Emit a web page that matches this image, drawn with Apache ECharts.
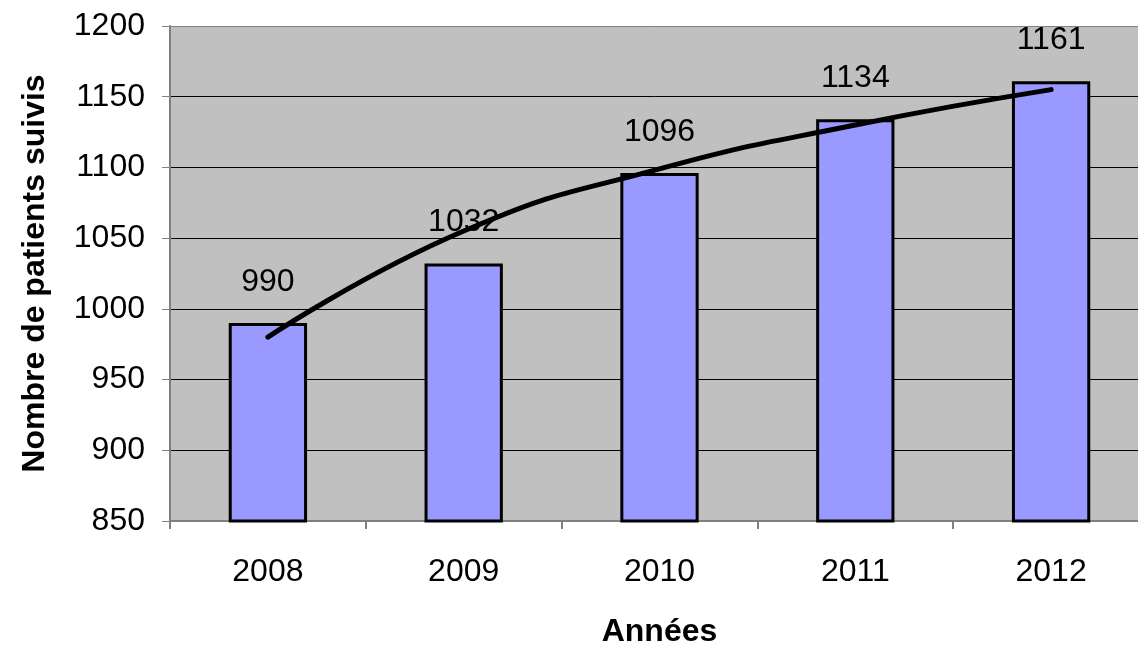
<!DOCTYPE html>
<html><head><meta charset="utf-8">
<script src="https://cdn.jsdelivr.net/npm/echarts@6/dist/echarts.min.js"></script>
<style>html,body{margin:0;padding:0;background:#fff}#c{width:1138px;height:648px}</style>
</head><body><div id="c"></div>
<script>
const categories = ['2008','2009','2010','2011','2012'];
const patients = [990, 1032, 1096, 1134, 1161];
const trend = [980, 1055, 1099, 1130, 1155];
const yMin = 850, yMax = 1200, yStep = 50;

const chart = echarts.init(document.getElementById('c'));
const font = 'Liberation Sans, Arial, sans-serif';
chart.setOption({
  animation: false,
  grid: {left: 170, top: 26, bottom: 127, right: -11, show: true, backgroundColor: '#C0C0C0', borderWidth: 0,
         containLabel: false, outerBoundsMode: 'none'},
  xAxis: {
    type: 'category', data: categories,
    name: 'Années', nameLocation: 'middle', nameGap: 95,
    nameTextStyle: {fontFamily: font, fontSize: 32, fontWeight: 'bold', color: '#000'},
    axisLine: {lineStyle: {color: '#808080', width: 2}},
    axisTick: {show: true, length: 8, lineStyle: {color: '#808080', width: 2}},
    axisLabel: {fontFamily: font, fontSize: 32, color: '#000', margin: 35},
    splitLine: {show: false}
  },
  yAxis: {
    type: 'value', min: yMin, max: yMax, interval: yStep,
    name: 'Nombre de patients suivis', nameLocation: 'middle', nameGap: 119,
    nameTextStyle: {fontFamily: font, fontSize: 32, fontWeight: 'bold', color: '#000'},
    axisLine: {show: true, lineStyle: {color: '#808080', width: 2}},
    axisTick: {show: true, length: 8, lineStyle: {color: '#808080', width: 1}},
    axisLabel: {fontFamily: font, fontSize: 32, color: '#000', margin: 25, formatter: v => String(v)},
    splitLine: {show: true, lineStyle: {color: ['#000','#000','#000','#000','#000','#000','#000','#808080'], width: 1}}
  },
  series: [
    {
      type: 'bar', data: patients, barWidth: '40%',
      itemStyle: {color: '#9999FF', borderColor: '#000', borderWidth: 3},
      label: {show: true, position: 'top', distance: 25, fontFamily: font, fontSize: 32, color: '#000'},
      z: 2
    },
    {
      type: 'line', data: trend, smooth: true, symbol: 'none',
      lineStyle: {color: '#000', width: 5, cap: 'round'},
      z: 3
    }
  ]
});
</script></body></html>
